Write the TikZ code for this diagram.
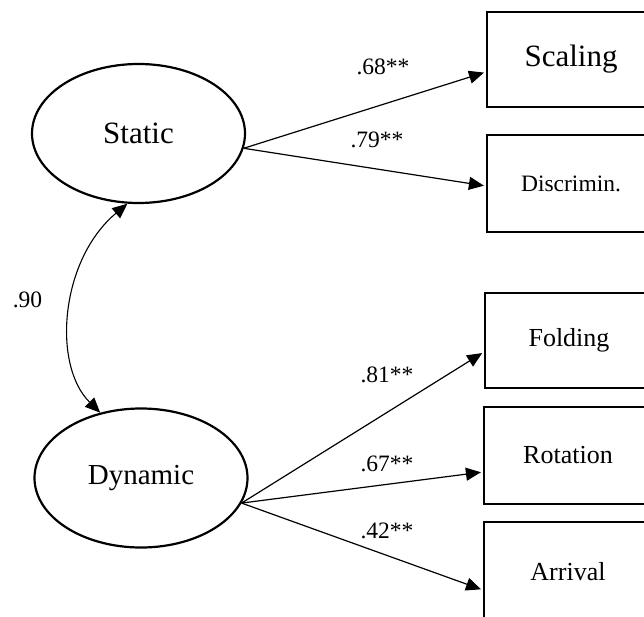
\documentclass[tikz,border=0pt]{standalone}
\usepackage{fontspec}
\setmainfont{Liberation Serif}
\usetikzlibrary{arrows.meta,shapes.geometric}
\begin{document}
\begin{tikzpicture}[x=1pt,y=-1pt,
 latent/.style={ellipse,draw,line width=2.2pt,inner sep=0pt,minimum width=213pt,minimum height=139pt},
 obs/.style={rectangle,draw,line width=2.2pt,inner sep=0pt,minimum width=168pt},
 tipstyle/.style={},
 pathedge/.style={line width=1.2pt,-{Triangle[length=15pt,width=13pt]},shorten >=2pt},
 lbl/.style={anchor=base,inner sep=0pt,font=\fontsize{23.5}{24}\selectfont}]
\useasboundingbox (0,0) rectangle (644,617);
\clip (0,0) rectangle (644,617);
\node[latent,font=\fontsize{31}{31}\selectfont] (static) at (138.5,133.5) {Static};
\node[latent,font=\fontsize{29}{29}\selectfont] (dynamic) at (141,478) {Dynamic};
\node[obs,minimum height=95pt,font=\fontsize{31}{31}\selectfont] (scaling) at (571,59.5) {Scaling};
\node[obs,minimum height=97pt,font=\fontsize{23.5}{24}\selectfont] (discrim) at (571,183.5) {Discrimin.};
\node[obs,minimum height=95pt,font=\fontsize{26}{26}\selectfont] (folding) at (569,340.5) {Folding};
\node[obs,minimum height=97pt,font=\fontsize{26}{26}\selectfont] (rotation) at (568,455.5) {Rotation};
\node[obs,minimum height=100pt,font=\fontsize{26}{26}\selectfont] (arrival) at (568,572) {Arrival};
\draw[pathedge] (static.-8) -- ([yshift=-12.5pt]scaling.west);
\draw[pathedge] (static.-8) -- ([yshift=-2.5pt]discrim.west);
\draw[pathedge] (dynamic.-14) -- ([yshift=-11.5pt]folding.west);
\draw[pathedge] (dynamic.-14) -- ([yshift=-16.5pt]rotation.west);
\draw[pathedge] (dynamic.-14) -- ([yshift=-18pt]arrival.west);
\draw[line width=1.1pt,{Triangle[length=15pt,width=13pt]}-{Triangle[length=15pt,width=13pt]}] (dynamic.122) .. controls (52,365) and (60,260) .. (static.261);
\node[lbl] (l1) at (383,75) {.68**};
\node[lbl] (l2) at (377,148) {.79**};
\node[lbl] (l3) at (387,382) {.81**};
\node[lbl] (l4) at (387,471) {.67**};
\node[lbl] (l5) at (387,538) {.42**};
\node[lbl] (l6) at (27.5,307) {.90};
\end{tikzpicture}
\end{document}
